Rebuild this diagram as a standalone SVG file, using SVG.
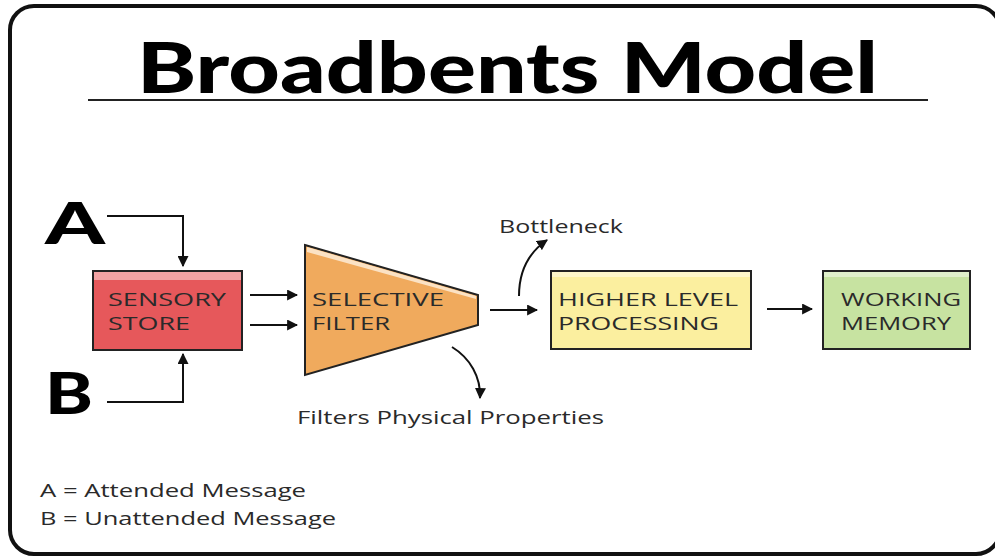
<svg xmlns="http://www.w3.org/2000/svg" width="995" height="558" viewBox="0 0 995 558">
  <defs>
    <marker id="head" viewBox="0 0 10 10" refX="9" refY="5" markerWidth="5.5" markerHeight="5.5" orient="auto" markerUnits="strokeWidth">
      <path d="M0,0 L10,5 L0,10 z" fill="#111"/>
    </marker>
    <style>
      .frame { fill: #fff; stroke: #111; stroke-width: 4; }
      .title { font-family: Lato, "Liberation Sans", sans-serif; font-weight: 900; font-size: 70px; fill: #000; }
      .big { font-family: Lato, "Liberation Sans", sans-serif; font-weight: 900; font-size: 57px; fill: #000; }
      .box { stroke: #222; stroke-width: 2; }
      .lbl { font-family: "Open Sans", "Liberation Sans", sans-serif; font-size: 19px; fill: #2a2a2a; }
      .note { font-family: "Open Sans", "Liberation Sans", sans-serif; font-size: 18px; fill: #2a2a2a; }
      .conn path { fill: none; stroke: #111; stroke-width: 2; marker-end: url(#head); }
    </style>
  </defs>

  <!-- outer frame and heading -->
  <rect class="frame" x="10" y="6" width="990" height="548" rx="24"/>
  <text class="title" x="137" y="93" textLength="741" lengthAdjust="spacingAndGlyphs">Broadbents Model</text>
  <line x1="88" y1="100" x2="928" y2="100" stroke="#222" stroke-width="2"/>

  <!-- inputs -->
  <g id="input-a">
    <text class="big" x="45" y="244" textLength="60" lengthAdjust="spacingAndGlyphs">A</text>
  </g>
  <g id="input-b">
    <text class="big" x="45" y="414" textLength="48" lengthAdjust="spacingAndGlyphs">B</text>
  </g>

  <!-- stages -->
  <g id="sensory-store">
    <rect class="box" x="93" y="271" width="149" height="79" fill="#e6585b"/>
    <rect x="94" y="272" width="147" height="8" fill="#f2a2a3"/>
    <text class="lbl" x="108" y="306" textLength="118" lengthAdjust="spacingAndGlyphs">SENSORY</text>
    <text class="lbl" x="108" y="330" textLength="82" lengthAdjust="spacingAndGlyphs">STORE</text>
  </g>

  <g id="selective-filter">
    <path class="box" d="M305,245 L478,295 L478,325 L305,375 Z" fill="#f0aa5d"/>
    <path d="M307,247 L476,296 L476,299 L307,252 Z" fill="#fbe2c4"/>
    <text class="lbl" x="312" y="306" textLength="132" lengthAdjust="spacingAndGlyphs">SELECTIVE</text>
    <text class="lbl" x="312" y="330" textLength="78" lengthAdjust="spacingAndGlyphs">FILTER</text>
  </g>

  <g id="higher-level-processing">
    <rect class="box" x="551" y="271" width="200" height="78" fill="#fbef9f"/>
    <rect x="552" y="272" width="198" height="5" fill="#fdf6c9"/>
    <text class="lbl" x="558" y="306" textLength="180" lengthAdjust="spacingAndGlyphs">HIGHER LEVEL</text>
    <text class="lbl" x="558" y="330" textLength="161" lengthAdjust="spacingAndGlyphs">PROCESSING</text>
  </g>

  <g id="working-memory">
    <rect class="box" x="823" y="271" width="147" height="78" fill="#c7e3a1"/>
    <rect x="824" y="272" width="145" height="5" fill="#e0f0cb"/>
    <text class="lbl" x="841" y="306" textLength="120" lengthAdjust="spacingAndGlyphs">WORKING</text>
    <text class="lbl" x="841" y="330" textLength="110" lengthAdjust="spacingAndGlyphs">MEMORY</text>
  </g>

  <!-- annotations -->
  <g id="bottleneck">
    <text class="note" x="499" y="233" textLength="124" lengthAdjust="spacingAndGlyphs">Bottleneck</text>
  </g>
  <g id="filters-physical-properties">
    <text class="note" x="297" y="424" textLength="307" lengthAdjust="spacingAndGlyphs">Filters Physical Properties</text>
  </g>

  <!-- legend -->
  <g id="legend">
    <text class="note" x="40" y="497" textLength="266" lengthAdjust="spacingAndGlyphs">A = Attended Message</text>
    <text class="note" x="40" y="525" textLength="296" lengthAdjust="spacingAndGlyphs">B = Unattended Message</text>
  </g>

  <!-- connectors -->
  <g class="conn" id="connectors">
    <path d="M107,216 L183,216 L183,266"/>
    <path d="M107,402 L183,402 L183,354"/>
    <path d="M250,295 L297,295"/>
    <path d="M250,325 L297,325"/>
    <path d="M490,310 L537,310"/>
    <path d="M519,296 C519,272 528,253 547,240"/>
    <path d="M452,347 C470,358 481,377 480,398"/>
    <path d="M767,309 L812,309"/>
  </g>
</svg>
